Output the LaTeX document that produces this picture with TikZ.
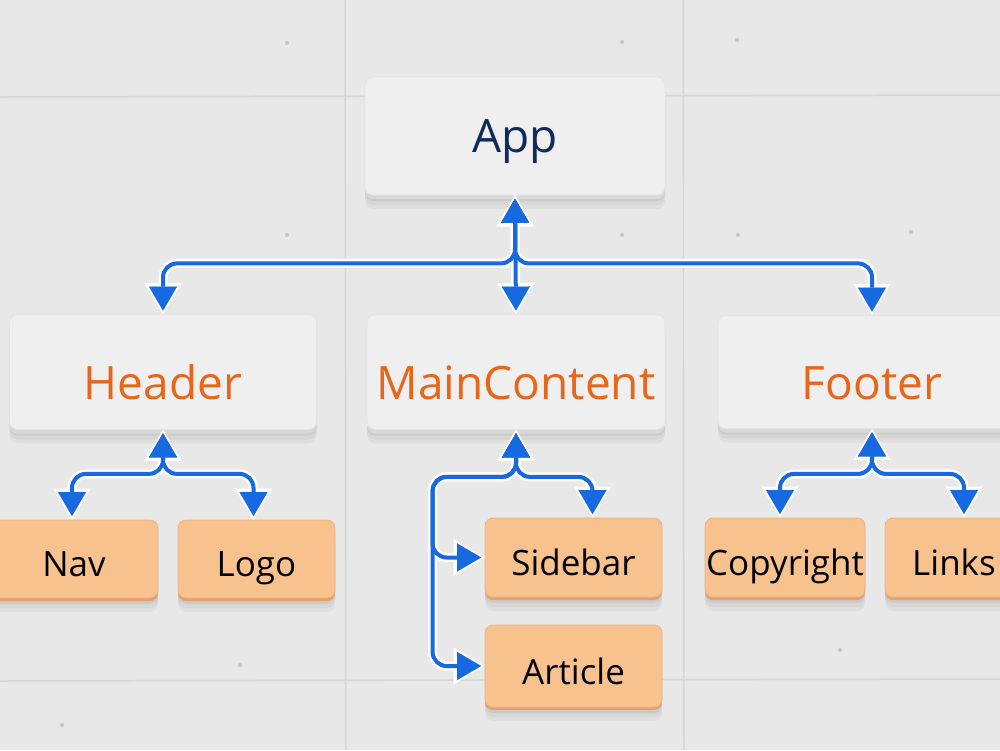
\documentclass[tikz,border=0pt]{standalone}
\usepackage{fontspec}
\setmainfont{Open Sans}
\usetikzlibrary{arrows.meta}
\definecolor{bg}{HTML}{E8E8E9}
\definecolor{gridc}{HTML}{D6D6D8}
\definecolor{dotc}{HTML}{C4C4C6}
\definecolor{boxg}{HTML}{EFEFEF}
\definecolor{boxgd}{HTML}{E4E4E4}
\definecolor{boxedgeg}{HTML}{D8D8D9}
\definecolor{peach}{HTML}{F8C28F}
\definecolor{peachd}{HTML}{EFB27E}
\definecolor{peachedge}{HTML}{E3A06A}
\definecolor{navyT}{HTML}{0F2A5C}
\definecolor{orangeT}{HTML}{E8661A}
\definecolor{blueA}{HTML}{1769E0}
\newcommand\FsBig{\fontsize{46pt}{52pt}\selectfont}
\newcommand\FsSmall{\fontsize{35pt}{40pt}\selectfont}
\newcommand\Conns{%
  \draw[cn] (app.south) -- (mainc.north);
  \draw[cn] (app.south) -- ++(0,68) -| (header.north);
  \draw[cn] (app.south) -- ++(0,68) -| (footer.north);
  \draw[cn] (header.south) -- ++(0,44) -| ([xshift=-2pt]nav.north);
  \draw[cn] (header.south) -- ++(0,44) -| ([xshift=-3pt]logo.north);
  \draw[cn] (mainc.south) -- ++(0,47) -| ([xshift=19pt]sidebar.north);
  \draw[cn] (mainc.south) -- ++(0,47) -| ([xshift=-52pt]sidebar.west) -- (sidebar.west);
  \draw[cn] (mainc.south) -- ++(0,47) -| ([xshift=-52pt]article.west) -- (article.west);
  \draw[cn] (footer.south) -- ++(0,45) -| ([xshift=-5pt]copy.north);
  \draw[cn] (footer.south) -- ++(0,45) -| ([xshift=-4pt]links.north);
}
\begin{document}
\begin{tikzpicture}[x=1pt,y=-1pt,
  shade3d/.style={
    preaction={fill=black, fill opacity=0.035, draw=none, transform canvas={yshift=-14pt}},
    preaction={fill=black, fill opacity=0.04, draw=none, transform canvas={yshift=-10pt}},
    preaction={fill=black, fill opacity=0.05, draw=none, transform canvas={yshift=-6pt}}},
  gbox/.style={shade3d, rounded corners=8pt, fill=boxg, draw=boxgd, line width=0.8pt,
    preaction={fill=boxedgeg, draw=none, transform canvas={yshift=-4pt}},
    inner sep=0pt, font=\FsBig, text=orangeT, text height=55pt, text depth=0pt,
    minimum height=115pt},
  obox/.style={shade3d, rounded corners=8pt, fill=peach, draw=peachd, line width=0.8pt,
    preaction={fill=peachedge, draw=none, transform canvas={yshift=-3pt}},
    inner sep=0pt, font=\FsSmall, text=black, text height=35pt, text depth=0pt,
    minimum height=79pt},
  wpass/.style={draw=white, line width=9pt, rounded corners=14pt, shorten >=0pt, shorten <=0pt,
    arrows={Triangle[width=37pt,length=31pt,line width=0.01pt,fill=white,color=white]-Triangle[width=37pt,length=31pt,line width=0.01pt,fill=white,color=white]}},
  bpass/.style={draw=blueA, line width=4pt, rounded corners=14pt, shorten >=3.5pt, shorten <=3.5pt,
    arrows={Triangle[width=28pt,length=24pt,line width=0.01pt,fill=blueA,color=blueA]-Triangle[width=28pt,length=24pt,line width=0.01pt,fill=blueA,color=blueA]}}
]
\useasboundingbox (0,0) rectangle (1000,750);
\clip (0,0) rectangle (1000,750);
% background wall
\fill[bg] (0,0) rectangle (1000,750);
\draw[gridc, line width=1.5pt] (0,97) -- (1000,95);
\draw[gridc, line width=1.5pt] (0,681) -- (1000,679);
\draw[gridc, line width=1.5pt] (345,0) -- (346,750);
\draw[gridc, line width=1.5pt] (683,0) -- (684,750);
\foreach \p in {(287,43),(287,235),(622,42),(737,40),(622,235),(738,235),(911,232),(62,725),(240,665),(840,650)}
  \fill[dotc] \p circle (2pt);
% boxes
\node[gbox, text=navyT, text height=33pt, minimum width=300pt, minimum height=118pt] (app) at (515,136) {App};
\node[gbox, minimum width=307pt] (header) at (163,372) {Header};
\node[gbox, minimum width=298pt] (mainc) at (516,372) {MainContent};
\node[gbox, minimum width=308pt, minimum height=113pt] (footer) at (872,372) {Footer};
\node[obox, minimum width=168pt, minimum height=78pt] (nav) at (74,559) {Nav};
\node[obox, minimum width=157pt, minimum height=78pt] (logo) at (256.5,559) {Logo};
\node[obox, minimum width=177pt] (sidebar) at (573.5,557.5) {Sidebar};
\node[obox, minimum width=177pt, minimum height=82pt, text height=37pt] (article) at (573.5,666) {Article};
\node[obox, minimum width=160pt] (copy) at (785,557.5) {Copyright};
\node[obox, minimum width=166pt] (links) at (968,557.5) {\hspace*{-28pt}Links};
% connectors: white halo, then blue
\begin{scope}[cn/.style={wpass}] \Conns \end{scope}
\begin{scope}[cn/.style={bpass}] \Conns \end{scope}
\end{tikzpicture}
\end{document}
